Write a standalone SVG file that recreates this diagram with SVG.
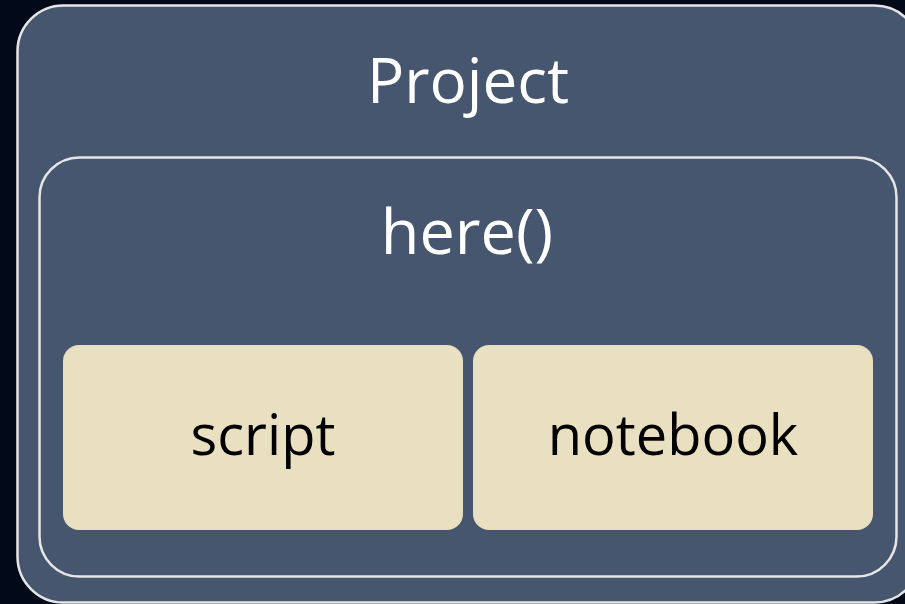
<svg xmlns="http://www.w3.org/2000/svg" width="905" height="604" viewBox="0 0 905 604">
<style>
.frame{fill:#46566e;stroke:#e6e6e6;stroke-width:2.5}
.file{fill:#e9dfc1}
.lt{font-family:"Open Sans","Liberation Sans",sans-serif;fill:#ffffff;text-anchor:middle}
.dt{font-family:"Open Sans","Liberation Sans",sans-serif;fill:#000000;text-anchor:middle}
</style>
<rect x="0" y="0" width="905" height="604" fill="#020a1a"/>
<g id="project">
<rect class="frame" x="17.5" y="5.5" width="903" height="597" rx="46" ry="46"/>
<text class="lt" x="468" y="103" font-size="62">Project</text>
</g>
<g id="here">
<rect class="frame" x="39.5" y="157.5" width="857" height="419" rx="40" ry="40"/>
<text class="lt" x="467" y="254" font-size="63">here()</text>
</g>
<g id="script">
<rect class="file" x="63" y="345" width="400" height="185" rx="16" ry="16"/>
<text class="dt" x="263" y="455" font-size="56">script</text>
</g>
<g id="notebook">
<rect class="file" x="473" y="345" width="400" height="185" rx="16" ry="16"/>
<text class="dt" x="673" y="455" font-size="56">notebook</text>
</g>
<g id="connectors"/>
</svg>
